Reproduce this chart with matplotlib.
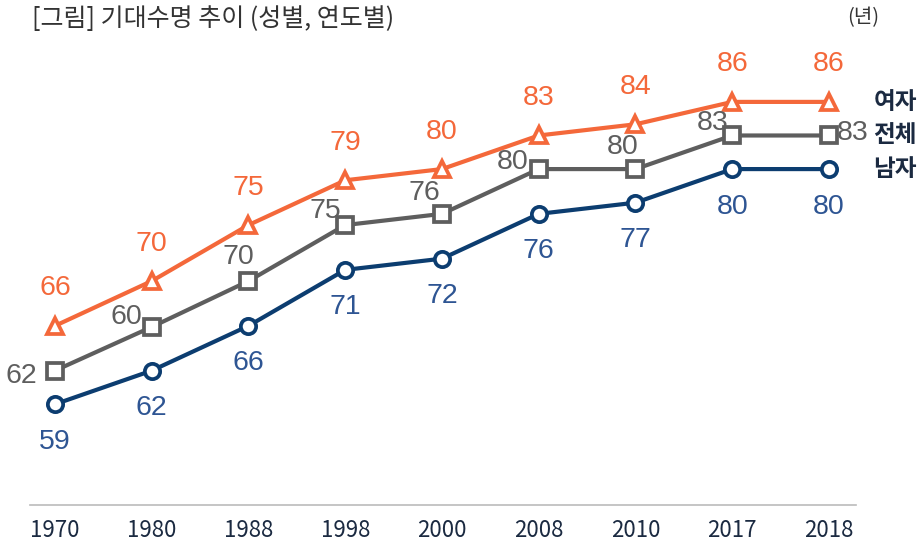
import matplotlib
matplotlib.use("Agg")
import matplotlib.pyplot as plt

years = ["1970", "1980", "1988", "1998", "2000", "2008", "2010", "2017", "2018"]
female = [66, 70, 75, 79, 80, 83, 84, 86, 86]
total = [62, 65.9, 70, 75, 76, 80, 80, 83, 83]
male = [59, 62, 66, 71, 72, 76, 77, 80, 80]
female_labels = ["66", "70", "75", "79", "80", "83", "84", "86", "86"]
total_labels = ["62", "60", "70", "75", "76", "80", "80", "83", "83"]
male_labels = ["59", "62", "66", "71", "72", "76", "77", "80", "80"]
series_names = ["여자", "전체", "남자"]

# label placement offsets (points) for the total series
total_offsets = [(-24, -4), (-18, 7), (-7, 17), (-14, 10), (-13, 15), (-19, 5), (-9, 16), (-14, 9), (17, 2)]

C_F = "#F4683A"
C_T = "#5E5E5E"
C_M = "#0C3D70"
C_ML = "#2E5593"
C_TXT = "#1B2A41"

KR = ["Noto Sans CJK KR", "DejaVu Sans"]
NUM = ["Liberation Sans", "DejaVu Sans"]

fig = plt.figure(figsize=(9.24, 5.43), dpi=100)
ax = fig.add_axes([30 / 924, 38 / 543, 826 / 924, 505 / 543])
x = list(range(len(years)))

ax.plot(x, female, color=C_F, lw=3, marker="^", ms=11.5, mfc="white", mec=C_F, mew=2.7, zorder=3)
ax.plot(x, total, color=C_T, lw=3, marker="s", ms=11, mfc="white", mec=C_T, mew=2.7, zorder=3)
ax.plot(x, male, color=C_M, lw=3, marker="o", ms=11, mfc="white", mec=C_M, mew=2.7, zorder=3)

LFS = 20.5
for i in x:
    ax.annotate(female_labels[i], (i, female[i]), xytext=(0, 27), textcoords="offset points",
                ha="center", va="center", fontsize=LFS, color=C_F, family=NUM)
    ax.annotate(male_labels[i], (i, male[i]), xytext=(0, -27), textcoords="offset points",
                ha="center", va="center", fontsize=LFS, color=C_ML, family=NUM)
    ax.annotate(total_labels[i], (i, total[i]), xytext=total_offsets[i], textcoords="offset points",
                ha="center", va="center", fontsize=LFS, color=C_T, family=NUM)

# series names at right
for name, val in zip(series_names, [female[-1], total[-1], male[-1]]):
    ax.annotate(name, (len(years) - 1, val), xytext=(32, 0), textcoords="offset points",
                ha="left", va="center", fontsize=17, fontweight="bold", color=C_TXT, family=KR,
                annotation_clip=False)

ax.set_xlim(-0.258, 8.279)
ax.set_ylim(50, 95.1)
ax.set_xticks(x)
ax.set_xticklabels(years, fontsize=16, color=C_TXT, family=KR)
ax.tick_params(axis="x", length=0, pad=10)
ax.set_yticks([])
for s in ["top", "right", "left"]:
    ax.spines[s].set_visible(False)
ax.spines["bottom"].set_color("#BBBBBB")
ax.spines["bottom"].set_linewidth(1.2)

fig.text(32 / 924, 1 - 19 / 543, "[그림] 기대수명 추이 (성별, 연도별)", ha="left", va="center",
         fontsize=18, color="#333333", family=KR)
fig.text(863 / 924, 1 - 18 / 543, "(년)", ha="center", va="center", fontsize=14.5,
         color="#333333", family=KR)

fig.savefig("out.png", dpi=100)
